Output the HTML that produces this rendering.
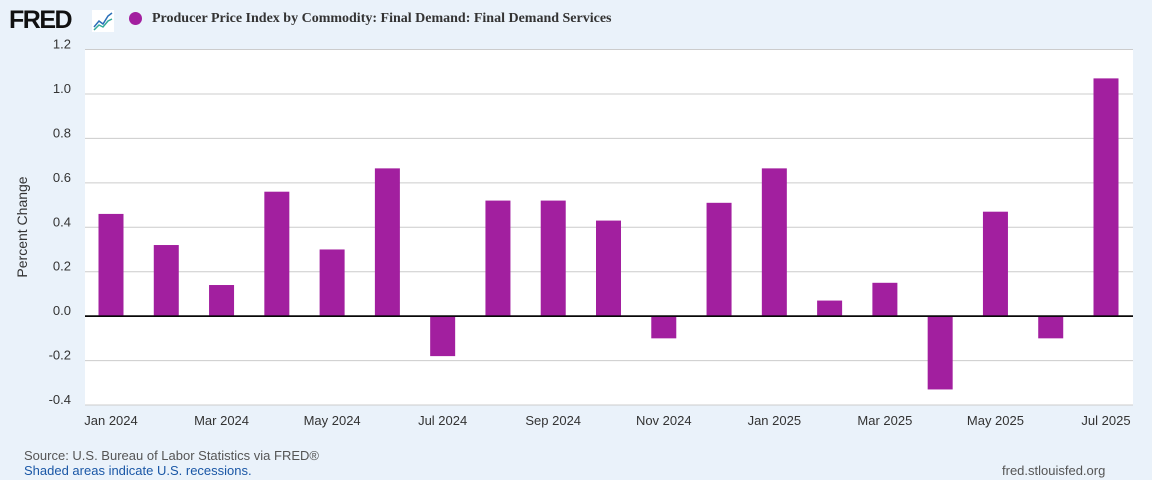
<!DOCTYPE html>
<html><head><meta charset="utf-8"><style>
body{margin:0;width:1152px;height:480px;background:#eaf2fa;font-family:"Liberation Sans",sans-serif;overflow:hidden;position:relative}
.t{position:absolute}
</style></head><body>
<div class="t" style="left:9px;top:6px;font-size:25px;font-weight:bold;letter-spacing:-1.5px;color:#111">FRED</div>
<svg class="t" style="left:92px;top:10px" width="22" height="22"><rect width="22" height="22" fill="#fff"/><polyline points="2,17 7,11 11,14 16,6 20,3" fill="none" stroke="#2a6fb8" stroke-width="1.5"/><polyline points="2,20 7,15 11,17 16,11 20,9" fill="none" stroke="#3a9" stroke-width="1.5"/></svg>
<div class="t" style="left:129px;top:12px;width:13px;height:13px;border-radius:50%;background:#a21f9f"></div>
<div class="t" style="left:152px;top:11px;font-family:'Liberation Serif',serif;font-weight:bold;font-size:14px;color:#333">Producer Price Index by Commodity: Final Demand: Final Demand Services</div>
<svg class="t" style="left:0;top:0" width="1152" height="480" id="chart"></svg>
<div class="t" style="left:24px;top:448px;font-size:13px;color:#555">Source: U.S. Bureau of Labor Statistics via FRED®</div>
<div class="t" style="left:24px;top:463px;font-size:13px;color:#1a57a6">Shaded areas indicate U.S. recessions.</div>
<div class="t" style="left:1002px;top:463px;font-size:13px;color:#555">fred.stlouisfed.org</div>
<script>
const categories=["Jan 2024","Feb 2024","Mar 2024","Apr 2024","May 2024","Jun 2024","Jul 2024","Aug 2024","Sep 2024","Oct 2024","Nov 2024","Dec 2024","Jan 2025","Feb 2025","Mar 2025","Apr 2025","May 2025","Jun 2025","Jul 2025"];
const values=[0.46,0.32,0.14,0.56,0.30,0.665,-0.18,0.52,0.52,0.43,-0.10,0.51,0.665,0.07,0.15,-0.33,0.47,-0.10,1.07];
const yTicks=[1.2,1.0,0.8,0.6,0.4,0.2,0.0,-0.2,-0.4];
const yTickLabels=["1.2","1.0","0.8","0.6","0.4","0.2","0.0","-0.2","-0.4"];
const xLabelIdx=[0,2,4,6,8,10,12,14,16,18];
const NS="http://www.w3.org/2000/svg";
const svg=document.getElementById('chart');
const L=85,R=1133,T=49.5,B=405;
const y=v=>T+(1.2-v)/(1.6)*(B-T);
const step=(1106-111)/18;
const x=i=>111+i*step;
function mk(tag,a){const e=document.createElementNS(NS,tag);for(const k in a)e.setAttribute(k,a[k]);svg.appendChild(e);return e;}
const bg=mk('rect',{x:L,y:T,width:R-L,height:B-T,fill:'#fff'});


yTicks.forEach((v,i)=>{
 const g=mk('line',{x1:L,x2:R,y1:y(v),y2:y(v),stroke:v===0?'#000':'#ccc','stroke-width':v===0?1.5:1});
 
 
 const t=mk('text',{x:71,y:y(v)-1,'text-anchor':'end','font-size':13,fill:'#333'});t.textContent=yTickLabels[i];
 
 
});
values.forEach((v,i)=>{
 const r=mk('rect',{x:x(i)-12.5,y:Math.min(y(v),y(0)),width:25,height:Math.abs(y(v)-y(0)),fill:'#a21f9f'});
 
 
});
mk('line',{x1:L,x2:R,y1:y(0),y2:y(0),stroke:'#000','stroke-width':1.5});
xLabelIdx.forEach(i=>{
 const t=mk('text',{x:x(i),y:425,'text-anchor':'middle','font-size':13,fill:'#333'});t.textContent=categories[i];
 
 
});
const yt=mk('text',{x:0,y:0,transform:'translate(27,227) rotate(-90)','text-anchor':'middle','font-size':14,fill:'#333'});yt.textContent='Percent Change';


</script>
</body></html>
